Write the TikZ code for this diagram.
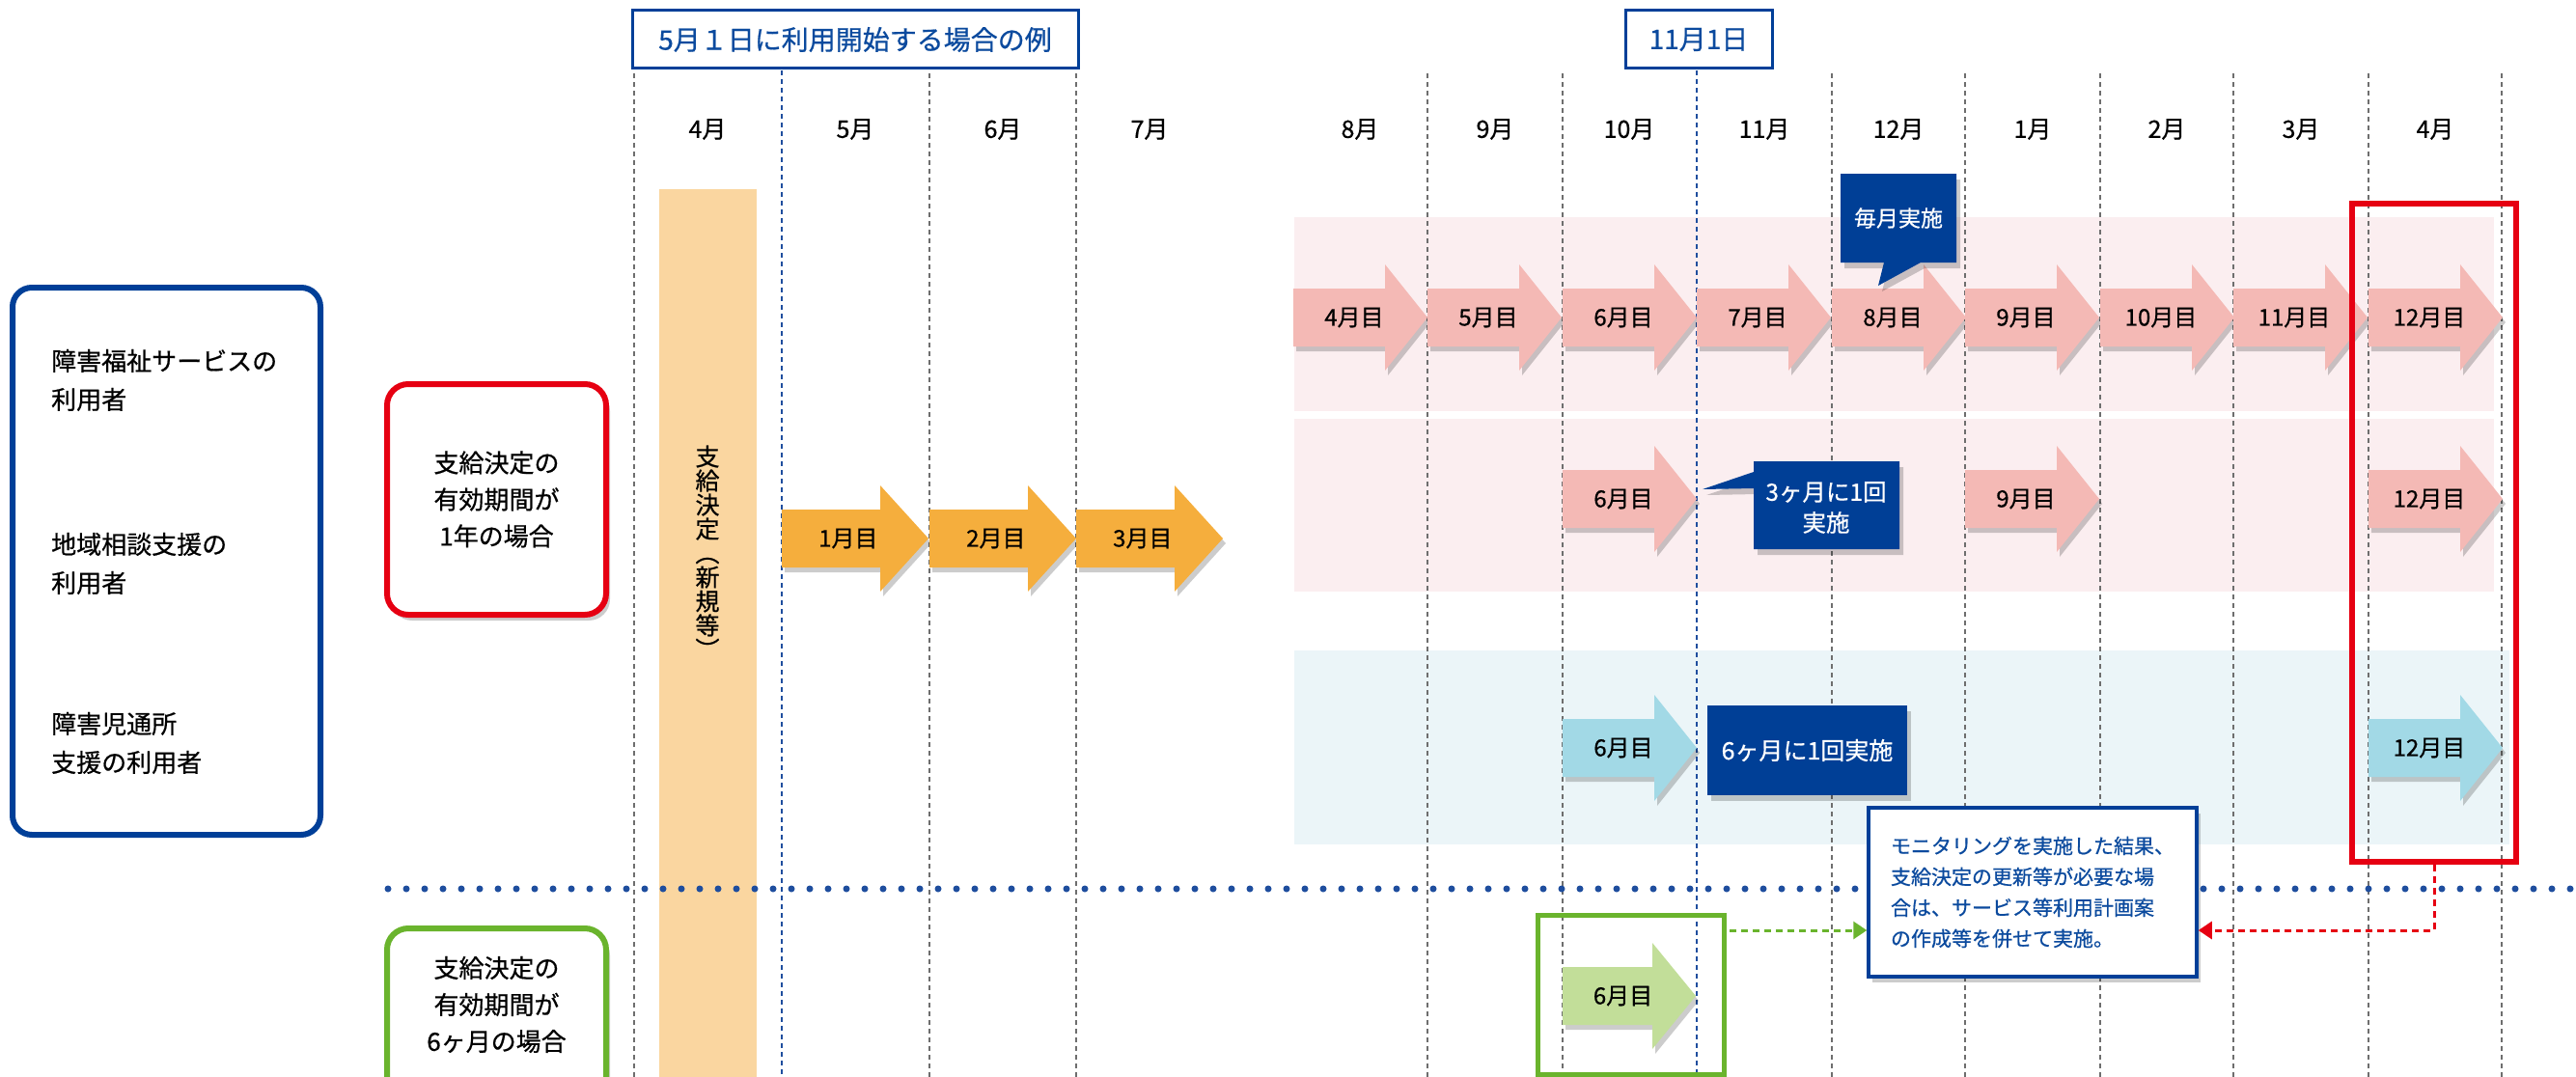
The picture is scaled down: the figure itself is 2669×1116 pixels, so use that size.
\documentclass[tikz,border=0pt]{standalone}
\usepackage{fontspec}
\setmainfont{Noto Sans CJK JP}[FakeBold=0.6]
\usetikzlibrary{shadows,arrows.meta}
\definecolor{mynavy}{HTML}{003F98}
\definecolor{titleblue}{HTML}{0B4A9E}
\definecolor{pinkband}{HTML}{FBEEF0}
\definecolor{blueband}{HTML}{EBF5F8}
\definecolor{pinkarrow}{HTML}{F4B9B5}
\definecolor{orangearrow}{HTML}{F5AE3D}
\definecolor{orangebar}{HTML}{FAD6A0}
\definecolor{bluearrow}{HTML}{A2D9E6}
\definecolor{greenarrow}{HTML}{C2DE99}
\definecolor{calloutblue}{HTML}{003F96}
\definecolor{alertred}{HTML}{E60012}
\definecolor{okgreen}{HTML}{6AB42D}
\definecolor{gridgray}{HTML}{6E6E6E}
\definecolor{dotblue}{HTML}{1F4E9E}
\newcommand\flowarrow[7]{%
  \fill[#6, arrowshade] (#2,#3-30) -- (#2+#4,#3-30) -- (#2+#4,#3-55) -- (#2+#5,#3) -- (#2+#4,#3+55) -- (#2+#4,#3+30) -- (#2,#3+30) -- cycle;
  \node[arrowtext] (#1) at (#2+0.453*#5,#3) {#7};}
\begin{document}
\begin{tikzpicture}[x=1pt,y=-1pt,
  arrowshade/.style={drop shadow={shadow xshift=3pt,shadow yshift=-5pt,opacity=0.2,fill=black}},
  boxshade/.style={drop shadow={shadow xshift=4pt,shadow yshift=-6pt,opacity=0.2,fill=black}},
  arrowtext/.style={inner sep=0pt,font=\fontsize{24}{26}\selectfont},
  monthtext/.style={inner sep=0pt,font=\fontsize{25}{27}\selectfont},
  headbox/.style={draw=mynavy,line width=3pt,fill=white,text=titleblue,inner sep=0pt,minimum height=60pt,font=\fontsize{28}{30}\selectfont},
  gridline/.style={draw=gridgray,line width=1.5pt,dash pattern=on 5pt off 4pt},
  keyline/.style={draw=dotblue,line width=2.6pt,dash pattern=on 5pt off 4pt},
  labeltext/.style={inner sep=0pt,align=left,font=\fontsize{26}{40}\selectfont},
  casetext/.style={inner sep=0pt,align=center,font=\fontsize{26}{38}\selectfont},
  calloutfill/.style={fill=calloutblue,boxshade},
  callouttext/.style={inner sep=0pt,align=center,text=white,font=\fontsize{24.5}{32}\selectfont},
  conn/.style={line width=3pt,dash pattern=on 7pt off 5pt,-{Triangle[length=14pt,width=18pt]}}
]
\useasboundingbox (0,0) rectangle (2669,1116);
\clip (0,0) rectangle (2669,1116);
% bands
\fill[pinkband] (1341,225) rectangle (2584,426);
\fill[pinkband] (1341,434) rectangle (2584,613);
\fill[blueband] (1341,674) rectangle (2600,875);
% decision bar
\fill[orangebar] (683,196) rectangle (784,1116);
% grid lines
\foreach \gx in {657,963,1115,1479,1619,1898,2036,2176,2314,2454,2592}
  \draw[gridline] (\gx,76) -- (\gx,1116);
\foreach \gx in {810,1758}
  \draw[keyline] (\gx,73) -- (\gx,1116);
% dotted separator
\draw[dotblue,line width=7pt,line cap=round,dash pattern=on 0pt off 19pt] (402,921) -- (2669,921);
% header boxes
\node[headbox,minimum width=462pt] (title) at (886,41) {5月１日に利用開始する場合の例};
\node[headbox,minimum width=152pt] (nov) at (1760,41) {11月1日};
% month labels
\foreach \mx/\mt [count=\i] in {733/4月,886/5月,1039/6月,1191/7月,1409/8月,1549/9月,1688/10月,1828/11月,1967/12月,2106/1月,2245/2月,2384/3月,2523/4月}
  \node[monthtext] (m\i) at (\mx,134) {\mt};
% vertical text
\node[inner sep=0pt,align=center,font=\fontsize{25}{25}\selectfont] (kettei) at (733,572) {支\\給\\決\\定\\︵\\新\\規\\等\\︶};
% left category box
\node[draw=mynavy,line width=6pt,rounded corners=20pt,minimum width=319pt,minimum height=567pt,inner sep=0pt] (users) at (172.5,581.5) {};
\node[labeltext,anchor=west] (u1) at (53,394) {障害福祉サービスの\\利用者};
\node[labeltext,anchor=west] (u2) at (53,584) {地域相談支援の\\利用者};
\node[labeltext,anchor=west] (u3) at (53,770) {障害児通所\\支援の利用者};
% case boxes
\node[draw=alertred,line width=6pt,rounded corners=22pt,fill=white,boxshade,minimum width=227pt,minimum height=239pt,casetext] (oneyear) at (514.5,517.5) {支給決定の\\有効期間が\\1年の場合};
\node[draw=okgreen,line width=6pt,rounded corners=22pt,fill=white,boxshade,minimum width=227pt,minimum height=239pt,inner sep=0pt] (sixbox) at (514.5,1081.5) {};
\node[casetext] (sixtext) at (514.5,1041) {支給決定の\\有効期間が\\6ヶ月の場合};
% orange arrows
\flowarrow{o1}{810}{558}{102}{152}{orangearrow}{1月目}
\flowarrow{o2}{963}{558}{102}{152}{orangearrow}{2月目}
\flowarrow{o3}{1115}{558}{102}{152}{orangearrow}{3月目}
% row 1
\flowarrow{a4}{1340}{329}{95}{139}{pinkarrow}{4月目}
\flowarrow{a5}{1479}{329}{95}{139}{pinkarrow}{5月目}
\flowarrow{a6}{1619}{329}{95}{139}{pinkarrow}{6月目}
\flowarrow{a7}{1758}{329}{95}{139}{pinkarrow}{7月目}
\flowarrow{a8}{1898}{329}{95}{139}{pinkarrow}{8月目}
\flowarrow{a9}{2036}{329}{95}{139}{pinkarrow}{9月目}
\flowarrow{a10}{2176}{329}{95}{139}{pinkarrow}{10月目}
\flowarrow{a11}{2314}{329}{95}{139}{pinkarrow}{11月目}
\flowarrow{a12}{2454}{329}{95}{139}{pinkarrow}{12月目}
% row 2
\flowarrow{b6}{1619}{517}{95}{139}{pinkarrow}{6月目}
\flowarrow{b9}{2036}{517}{95}{139}{pinkarrow}{9月目}
\flowarrow{b12}{2454}{517}{95}{139}{pinkarrow}{12月目}
% row 3
\flowarrow{c6}{1619}{775}{95}{139}{bluearrow}{6月目}
\flowarrow{c12}{2454}{775}{95}{139}{bluearrow}{12月目}
% six-month case
\flowarrow{g6}{1619}{1032}{93}{138}{greenarrow}{6月目}
% callouts
\fill[calloutfill] (1907,180) -- (2027,180) -- (2027,272) -- (1990,272) -- (1946,296) -- (1952,272) -- (1907,272) -- cycle;
\node[callouttext,font=\fontsize{23}{28}\selectfont] (monthly) at (1967,226) {毎月実施};
\fill[calloutfill] (1817,478) -- (1968,478) -- (1968,569) -- (1817,569) -- (1817,506) -- (1764,507) -- (1817,489) -- cycle;
\node[callouttext] (quarter) at (1892,526) {3ヶ月に1回\\実施};
\node[fill=calloutblue,boxshade,minimum width=207pt,minimum height=93pt,inner sep=0pt,text=white,font=\fontsize{25}{28}\selectfont] (half) at (1872.5,777.5) {6ヶ月に1回実施};
% frames
\node[draw=alertred,line width=6pt,minimum width=170pt,minimum height=682pt,inner sep=0pt] (redframe) at (2522,552) {};
\node[draw=okgreen,line width=5pt,minimum width=193pt,minimum height=165pt,inner sep=0pt] (greenframe) at (1689.5,1030.5) {};
% note
\node[draw=mynavy,line width=3.5pt,fill=white,boxshade,minimum width=340pt,minimum height=175pt,inner sep=0pt,align=left,text=titleblue,font=\fontsize{21}{32}\selectfont] (note) at (2106,924.5) {モニタリングを実施した結果、\\支給決定の更新等が必要な場\\合は、サービス等利用計画案\\の作成等を併せて実施。};
% connectors
\coordinate (gstart) at (1792,964);
\draw[conn,okgreen] (gstart) -- (gstart -| note.west);
\draw[conn,alertred] (redframe.south) -- (redframe.south |- gstart) -- (gstart -| note.east);
\end{tikzpicture}
\end{document}
